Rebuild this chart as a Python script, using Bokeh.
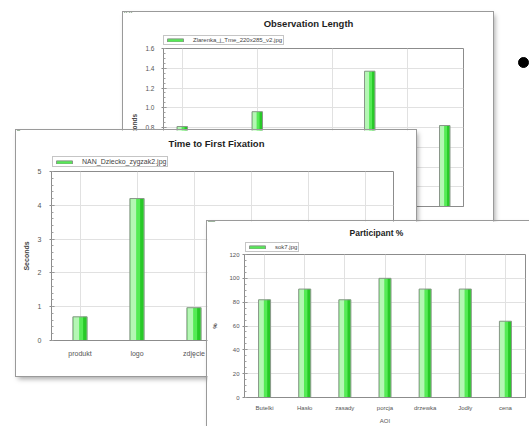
from bokeh.plotting import figure
from bokeh.models import (ColumnDataSource, Range1d, FixedTicker, Legend,
                          LegendItem, GridBox, Label, PrintfTickFormatter)
from bokeh.transform import dodge
from bokeh.embed import file_html
from bokeh.resources import INLINE

FONT = "Liberation Sans"

# ---------------- data ----------------
obs_title = "Observation Length"
obs_file = "Zlarenka_j_Tme_220x285_v2.jpg"
obs_aoi_count = 8
obs_aoi_index = [1, 3, 6, 8]
obs_seconds = [0.81, 0.96, 1.37, 0.82]
obs_y_ticks = [0.0, 0.2, 0.4, 0.6, 0.8, 1.0, 1.2, 1.4, 1.6]

ttff_title = "Time to First Fixation"
ttff_file = "NAN_Dziecko_zygzak2.jpg"
ttff_aoi_count = 6
ttff_aoi = ["produkt", "logo", "zdjęcie"]
ttff_seconds = [0.7, 4.2, 0.97]
ttff_y_ticks = [0, 1, 2, 3, 4, 5]

part_title = "Participant %"
part_file = "sok7.jpg"
part_aoi = ["Butelki", "Hasło", "zasady", "porcja", "drzewka", "Jodły", "cena"]
part_pct = [82, 91, 82, 100, 91, 91, 64]
part_y_ticks = [0, 20, 40, 60, 80, 100, 120]

bullet_x = [0]
bullet_y = [0]

SHADOW = {"box-shadow": "0 0 0 1px #9a9a9a, 2px 3px 5px rgba(0,0,0,0.35)"}
BAR_FILL = "#55eb55"
BAR_EDGE = "#8a978a"


def make_chrome(W, H, src, title, title_x, title_y, title_size,
                legend_label, legend_font, leg_x, leg_top, leg_h):
    """Window of the exported chart: background, title and legend box."""
    c = figure(width=W, height=H, x_range=Range1d(0, W), y_range=Range1d(H, 0),
               x_axis_location=None, y_axis_location=None, min_border=0,
               toolbar_location=None, output_backend="svg", frame_align=False,
               outline_line_color=None, background_fill_color="white",
               border_fill_color="white", styles=SHADOW, title=None)
    c.grid.visible = False
    # legend proxy of the series: same data, on a range where it is out of view
    c.extra_y_ranges = {"proxy": Range1d(-2, -1)}
    swatch = c.vbar(x="x", top="top", width=1, source=src, y_range_name="proxy",
                    fill_color=BAR_FILL, line_color=BAR_EDGE)
    c.add_layout(Legend(items=[LegendItem(label=legend_label, renderers=[swatch])],
                        location=(leg_x, H - leg_top - leg_h), orientation="horizontal",
                        label_text_font=FONT, label_text_font_size=legend_font,
                        label_text_color="#444444", label_height=6, label_standoff=8,
                        glyph_width=20, glyph_height=4, padding=1, spacing=0, margin=0,
                        border_line_color="#8c8c8c", border_line_width=1,
                        background_fill_color="white"))
    c.add_layout(Label(x=title_x, y=title_y, text=title, text_align="center",
                       text_baseline="middle", text_font=FONT, text_font_style="bold",
                       text_font_size=title_size, text_color="#1e1e1e"))
    return c


def make_panel(width, height, left, top, right, bottom, n_slots, y_ticks, minor_div,
               tick_font, tick_standoff, ylabel, ylabel_standoff):
    p = figure(width=width, height=height, title=None,
               x_range=Range1d(0.5, n_slots + 0.5),
               y_range=Range1d(y_ticks[0], y_ticks[-1]),
               output_backend="svg", toolbar_location=None,
               min_border_left=left, min_border_top=top,
               min_border_right=width - right, min_border_bottom=height - bottom,
               background_fill_color="white", border_fill_color=None,
               outline_line_color="#8c8c8c", frame_align=False)
    step = (y_ticks[1] - y_ticks[0]) / minor_div
    n = int(round((y_ticks[-1] - y_ticks[0]) / step))
    minors = [y_ticks[0] + i * step for i in range(n + 1)]
    ax = p.yaxis[0]
    ax.ticker = FixedTicker(ticks=y_ticks, minor_ticks=minors)
    ax.axis_line_color = "#8c8c8c"
    ax.major_tick_line_color = "#8c8c8c"
    ax.minor_tick_line_color = "#a0a0a0"
    ax.major_tick_in = 3
    ax.major_tick_out = 2
    ax.minor_tick_in = 2
    ax.minor_tick_out = 0
    ax.major_label_text_font = FONT
    ax.major_label_text_font_size = tick_font
    ax.major_label_text_color = "#555555"
    ax.major_label_standoff = tick_standoff
    ax.axis_label = ylabel
    ax.axis_label_text_font = FONT
    ax.axis_label_text_font_size = tick_font
    ax.axis_label_text_font_style = "bold"
    ax.axis_label_text_color = "#444444"
    ax.axis_label_standoff = ylabel_standoff
    xa = p.xaxis[0]
    xa.axis_line_color = "#8c8c8c"
    xa.major_tick_line_color = "#8c8c8c"
    xa.major_tick_in = 0
    xa.major_tick_out = 0
    xa.minor_tick_line_color = None
    xa.major_label_text_font = FONT
    xa.major_label_text_color = "#555555"
    p.ygrid.ticker = FixedTicker(ticks=y_ticks)
    p.grid.grid_line_color = "#e1e1e1"
    return p


def draw_bars(p, src, w):
    p.vbar(x="x", top="top", width=w, source=src, fill_color=BAR_FILL, line_color=None)
    p.vbar(x=dodge("x", -w * 0.26), top="top", width=w * 0.40, source=src,
           fill_color="#b4f7b4", line_color=None)
    p.vbar(x=dodge("x", w * 0.34), top="top", width=w * 0.24, source=src,
           fill_color="#28c928", line_color=None)
    p.vbar(x="x", top="top", width=w, source=src, fill_color=None,
           line_color=BAR_EDGE, line_width=1)


# ---------- Panel A: Observation Length ----------
src_a = ColumnDataSource(dict(x=obs_aoi_index, top=obs_seconds))
ca = make_chrome(370, 213, src_a, obs_title, 185, 11, "9.5px", obs_file, "6px", 40, 24, 9)
pa = make_panel(370, 213, 40, 36, 340, 194, obs_aoi_count, obs_y_ticks, 4,
                "6.5px", 7, "Seconds", 4)
pa.yaxis[0].formatter = PrintfTickFormatter(format="%.1f")
pa.xaxis[0].ticker = FixedTicker(ticks=[])
pa.xgrid.ticker = FixedTicker(ticks=list(range(1, obs_aoi_count + 1, 2)))
draw_bars(pa, src_a, 0.28)
for f in (ca, pa):
    f.margin = (12, 0, 0, 123)

# ---------- Panel B: Time to First Fixation ----------
ttff_pos = list(range(1, len(ttff_aoi) + 1))
src_b = ColumnDataSource(dict(x=ttff_pos, top=ttff_seconds))
cb = make_chrome(400, 246, src_b, ttff_title, 200, 13, "9.5px", ttff_file, "7px", 36, 27, 10)
pb = make_panel(400, 246, 35, 41, 377, 210, ttff_aoi_count, ttff_y_ticks, 5,
                "7px", 8, "Seconds", 5)
pb.xaxis[0].ticker = FixedTicker(ticks=ttff_pos)
pb.xaxis[0].major_label_overrides = dict(zip(ttff_pos, ttff_aoi))
pb.xaxis[0].major_label_text_font_size = "7px"
pb.xaxis[0].major_label_standoff = 9
pb.xgrid.ticker = FixedTicker(ticks=list(range(1, ttff_aoi_count + 1)))
draw_bars(pb, src_b, 0.25)
for f in (cb, pb):
    f.margin = (130, 0, 0, 16)

# ---------- Panel C: Participant % ----------
part_pos = list(range(1, len(part_aoi) + 1))
src_c = ColumnDataSource(dict(x=part_pos, top=part_pct))
cc = make_chrome(322, 205, src_c, part_title, 169, 11, "8.5px", part_file, "6px", 38, 22, 9)
pc = make_panel(322, 205, 37, 33, 318, 177, len(part_aoi), part_y_ticks, 4,
                "6px", 3, "%", 8)
pc.xaxis[0].ticker = FixedTicker(ticks=part_pos)
pc.xaxis[0].major_label_overrides = dict(zip(part_pos, part_aoi))
pc.xaxis[0].major_label_text_font_size = "6px"
pc.xaxis[0].major_label_standoff = 7
pc.xaxis[0].axis_label = "AOI"
pc.xaxis[0].axis_label_text_font = FONT
pc.xaxis[0].axis_label_text_font_size = "6px"
pc.xaxis[0].axis_label_text_font_style = "normal"
pc.xaxis[0].axis_label_text_color = "#555555"
pc.xaxis[0].axis_label_standoff = 4
pc.xgrid.ticker = FixedTicker(ticks=part_pos)
draw_bars(pc, src_c, 0.3)
for f in (cc, pc):
    f.margin = (221, 0, 0, 207)

# ---------- slide bullet ----------
bul = figure(width=12, height=12, x_range=Range1d(-1, 1), y_range=Range1d(-1, 1),
             output_backend="svg", toolbar_location=None, min_border=0,
             outline_line_color=None, title=None, frame_align=False,
             x_axis_location=None, y_axis_location=None)
bul.grid.visible = False
bul.scatter(bullet_x, bullet_y, size=10, color="black")
bul.margin = (56, 0, 0, 517)

layout = GridBox(children=[(bul, 0, 0), (ca, 0, 0), (pa, 0, 0), (cb, 0, 0),
                           (pb, 0, 0), (cc, 0, 0), (pc, 0, 0)])

open("out.html", "w").write(file_html(layout, INLINE))
